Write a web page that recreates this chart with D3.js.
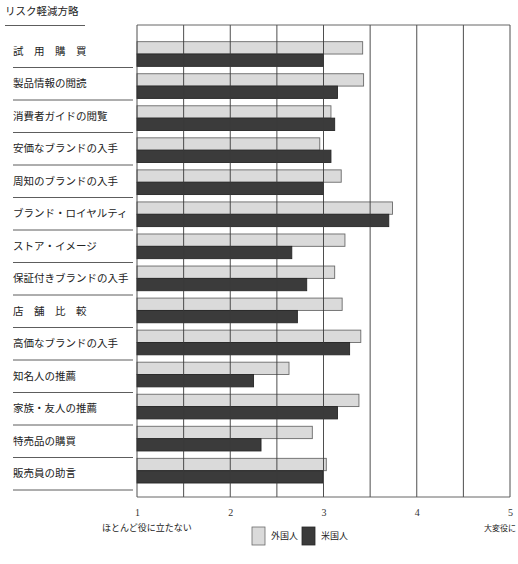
<!DOCTYPE html>
<html>
<head>
<meta charset="utf-8">
<script src="https://cdn.jsdelivr.net/npm/d3@7"></script>
<style>
  body { margin: 0; background: #fff; }
  text { font-family: "Noto Sans CJK JP", sans-serif; fill: #222; }
</style>
</head>
<body>
<div id="chart"></div>
<script>
// categories (top to bottom) and the two series
const strategies = ["試　用　購　買", "製品情報の閲読", "消費者ガイドの閲覧", "安価なブランドの入手",
  "周知のブランドの入手", "ブランド・ロイヤルティ", "ストア・イメージ", "保証付きブランドの入手",
  "店　舗　比　較", "高価なブランドの入手", "知名人の推薦", "家族・友人の推薦", "特売品の購買", "販売員の助言"];
const foreigners = [3.42, 3.43, 3.08, 2.96, 3.19, 3.74, 3.23, 3.12, 3.20, 3.40, 2.63, 3.38, 2.88, 3.03];
const americans = [3.00, 3.15, 3.12, 3.08, 3.00, 3.70, 2.66, 2.82, 2.72, 3.28, 2.25, 3.15, 2.33, 2.99];
const seriesNames = ["外国人", "米国人"];
const tickValues = [1, 2, 3, 4, 5];
const gridValues = [1, 1.5, 2, 2.5, 3, 3.5, 4, 4.5, 5];

const width = 518;
const height = 564;
const plot = { left: 137, right: 510, top: 25, bottom: 497 };

const data = strategies.map((s, i) => ({ name: s, values: [foreigners[i], americans[i]] }));

const svg = d3.select("#chart")
  .append("svg")
    .attr("width", width)
    .attr("height", height);

const x = d3.scaleLinear()
  .domain([1, 5])
  .range([plot.left, plot.right]);

// rows for the bars
const y = d3.scaleBand()
  .domain(strategies)
  .range([38, 486.7])
  .paddingInner(0.23)
  .paddingOuter(0.115);

const ySub = d3.scaleBand()
  .domain(seriesNames)
  .range([0, y.bandwidth()]);

// rows for the left labels (a touch looser than the bars)
const yLabel = d3.scaleBand()
  .domain(strategies)
  .range([35, 490]);

const color = d3.scaleOrdinal()
  .domain(seriesNames)
  .range(["#dadada", "#3b3b3b"]);
const edge = d3.scaleOrdinal()
  .domain(seriesNames)
  .range(["#6a6a6a", "#262626"]);

// title + rule
svg.append("text")
  .attr("x", 5)
  .attr("y", 15)
  .style("font-size", "10.5px")
  .text("リスク軽減方略");

svg.append("line")
  .attr("x1", 5).attr("x2", 85)
  .attr("y1", 25.5).attr("y2", 25.5)
  .attr("stroke", "#333")
  .attr("stroke-width", 0.8);

// left labels with rules under each
const labels = svg.append("g");
labels.selectAll("text")
  .data(strategies)
  .join("text")
    .attr("x", 13)
    .attr("y", d => yLabel(d) + yLabel.bandwidth() / 2)
    .attr("dy", "0.35em")
    .style("font-size", "10.5px")
    .text(d => d);

labels.selectAll("line")
  .data(strategies)
  .join("line")
    .attr("x1", 13).attr("x2", 133)
    .attr("y1", d => yLabel(d) + yLabel.bandwidth())
    .attr("y2", d => yLabel(d) + yLabel.bandwidth())
    .attr("stroke", "#333")
    .attr("stroke-width", 0.8);

// bars
const rows = svg.append("g")
  .selectAll("g")
  .data(data)
  .join("g")
    .attr("transform", d => `translate(0,${y(d.name)})`);

rows.selectAll("rect")
  .data(d => d.values.map((v, j) => ({ key: seriesNames[j], value: v })))
  .join("rect")
    .attr("x", x(1))
    .attr("y", d => ySub(d.key))
    .attr("width", d => x(d.value) - x(1))
    .attr("height", ySub.bandwidth())
    .attr("fill", d => color(d.key))
    .attr("stroke", d => edge(d.key))
    .attr("stroke-width", 0.9);

// vertical grid every half step, drawn over the bars
svg.append("g")
  .selectAll("line")
  .data(gridValues)
  .join("line")
    .attr("x1", d => x(d))
    .attr("x2", d => x(d))
    .attr("y1", plot.top)
    .attr("y2", plot.bottom)
    .attr("stroke", "#3a3a3a")
    .attr("stroke-width", 0.9);

// frame top / bottom
svg.append("line")
  .attr("x1", plot.left).attr("x2", plot.right)
  .attr("y1", plot.top).attr("y2", plot.top)
  .attr("stroke", "#555").attr("stroke-width", 0.9);
svg.append("line")
  .attr("x1", plot.left).attr("x2", plot.right)
  .attr("y1", plot.bottom).attr("y2", plot.bottom)
  .attr("stroke", "#555").attr("stroke-width", 0.9);

// bottom axis: numbers only, no ticks
svg.append("g")
  .attr("transform", `translate(0,${plot.bottom})`)
  .call(d3.axisBottom(x).tickValues(tickValues).tickFormat(d3.format("d")).tickSize(0).tickPadding(12))
  .call(g => g.select(".domain").remove())
  .selectAll("text")
    .style("font-family", "'Liberation Serif', serif")
    .style("font-size", "10px")
    .style("fill", "#333");

// scale end captions
svg.append("text")
  .attr("x", 102)
  .attr("y", 531)
  .style("font-size", "9px")
  .text("ほとんど役に立たない");

svg.append("text")
  .attr("x", 484)
  .attr("y", 531)
  .style("font-size", "8px")
  .text("大変役に");

// legend
const legend = svg.append("g")
  .selectAll("g")
  .data(seriesNames)
  .join("g")
    .attr("transform", (d, i) => `translate(${252 + i * 50},527)`);

legend.append("rect")
  .attr("width", 13)
  .attr("height", 18)
  .attr("fill", d => color(d))
  .attr("stroke", d => edge(d))
  .attr("stroke-width", 0.8);

legend.append("text")
  .attr("x", 19)
  .attr("y", 9)
  .attr("dy", "0.35em")
  .style("font-size", "9px")
  .text(d => d);
</script>
</body>
</html>
